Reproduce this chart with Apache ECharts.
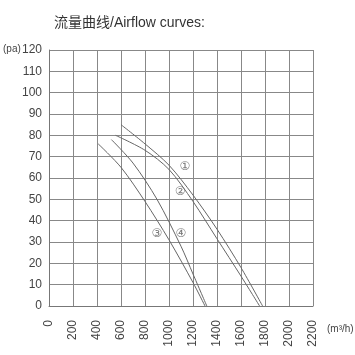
<!DOCTYPE html>
<html>
<head>
<meta charset="utf-8">
<script src="https://cdn.jsdelivr.net/npm/echarts@6/dist/echarts.min.js"></script>
<style>
html, body { margin: 0; padding: 0; background: #fff; }
#main { width: 355px; height: 355px; }
</style>
</head>
<body>
<div id="main"></div>
<script>
// 曲线数据 [风量 m3/h, 静压 pa]
var curve1 = [[600, 85], [800, 76], [1000, 66], [1200, 52], [1400, 36], [1600, 18], [1780, 0]];
var curve2 = [[555, 80], [800, 73], [1000, 64], [1200, 49], [1400, 31.5], [1600, 14], [1755, 0]];
var curve3 = [[410, 76], [600, 65], [800, 49], [1000, 31], [1200, 11], [1300, 0]];
var curve4 = [[520, 78], [700, 67], [900, 50], [1100, 28], [1200, 15], [1315, 0]];
// 曲线编号位置
var tagNames = ['①', '②', '③', '④'];
var tagPos = [[1133, 65], [1092, 53.5], [900, 34], [1100, 34]];

var lineColor = '#666';
var labelFont = "'Liberation Sans', sans-serif";
var myChart = echarts.init(document.getElementById('main'));

var tagData = [];
for (var i = 0; i < tagNames.length; i++) {
    tagData.push({ value: tagPos[i], name: tagNames[i] });
}

var series = [];
var curves = [curve1, curve2, curve3, curve4];
for (var j = 0; j < curves.length; j++) {
    series.push({
        type: 'line',
        data: curves[j],
        smooth: 0.3,
        symbol: 'none',
        silent: true,
        lineStyle: { color: lineColor, width: 1 }
    });
}
series.push({
    type: 'scatter',
    data: tagData,
    symbolSize: 0,
    silent: true,
    label: {
        show: true,
        position: 'inside',
        formatter: '{b}',
        color: '#555',
        fontSize: 12,
        fontFamily: "'DejaVu Sans'"
    }
});

var option = {
    animation: false,
    grid: { left: 49, top: 50, right: 42, bottom: 49 },
    xAxis: {
        type: 'value',
        min: 0,
        max: 2200,
        interval: 200,
        axisLine: { show: true, lineStyle: { color: '#777', width: 1 } },
        axisTick: { show: false },
        splitLine: { show: true, lineStyle: { color: '#888', width: 1 } },
        axisLabel: {
            rotate: 90,
            margin: 14,
            color: '#444',
            fontSize: 12,
            fontFamily: labelFont,
            formatter: function (v) { return String(v); }
        }
    },
    yAxis: {
        type: 'value',
        min: 0,
        max: 120,
        interval: 10,
        axisLine: { show: true, lineStyle: { color: '#777', width: 1 } },
        axisTick: { show: false },
        splitLine: { show: true, lineStyle: { color: '#888', width: 1 } },
        axisLabel: {
            margin: 7,
            color: '#444',
            fontSize: 12,
            fontFamily: labelFont
        }
    },
    graphic: [
        {
            type: 'text',
            left: 54,
            top: 16,
            style: {
                text: '流量曲线/Airflow curves:',
                fill: '#333',
                fontSize: 14,
                fontFamily: "'Liberation Sans', 'Noto Sans CJK SC', sans-serif"
            }
        },
        {
            type: 'text',
            left: 3,
            top: 44,
            style: {
                text: '(pa)',
                fill: '#444',
                fontSize: 10,
                fontFamily: labelFont
            }
        },
        {
            type: 'text',
            left: 327,
            top: 324,
            style: {
                text: '(m³/h)',
                fill: '#444',
                fontSize: 10,
                fontFamily: labelFont
            }
        }
    ],
    series: series
};
myChart.setOption(option);
</script>
</body>
</html>
